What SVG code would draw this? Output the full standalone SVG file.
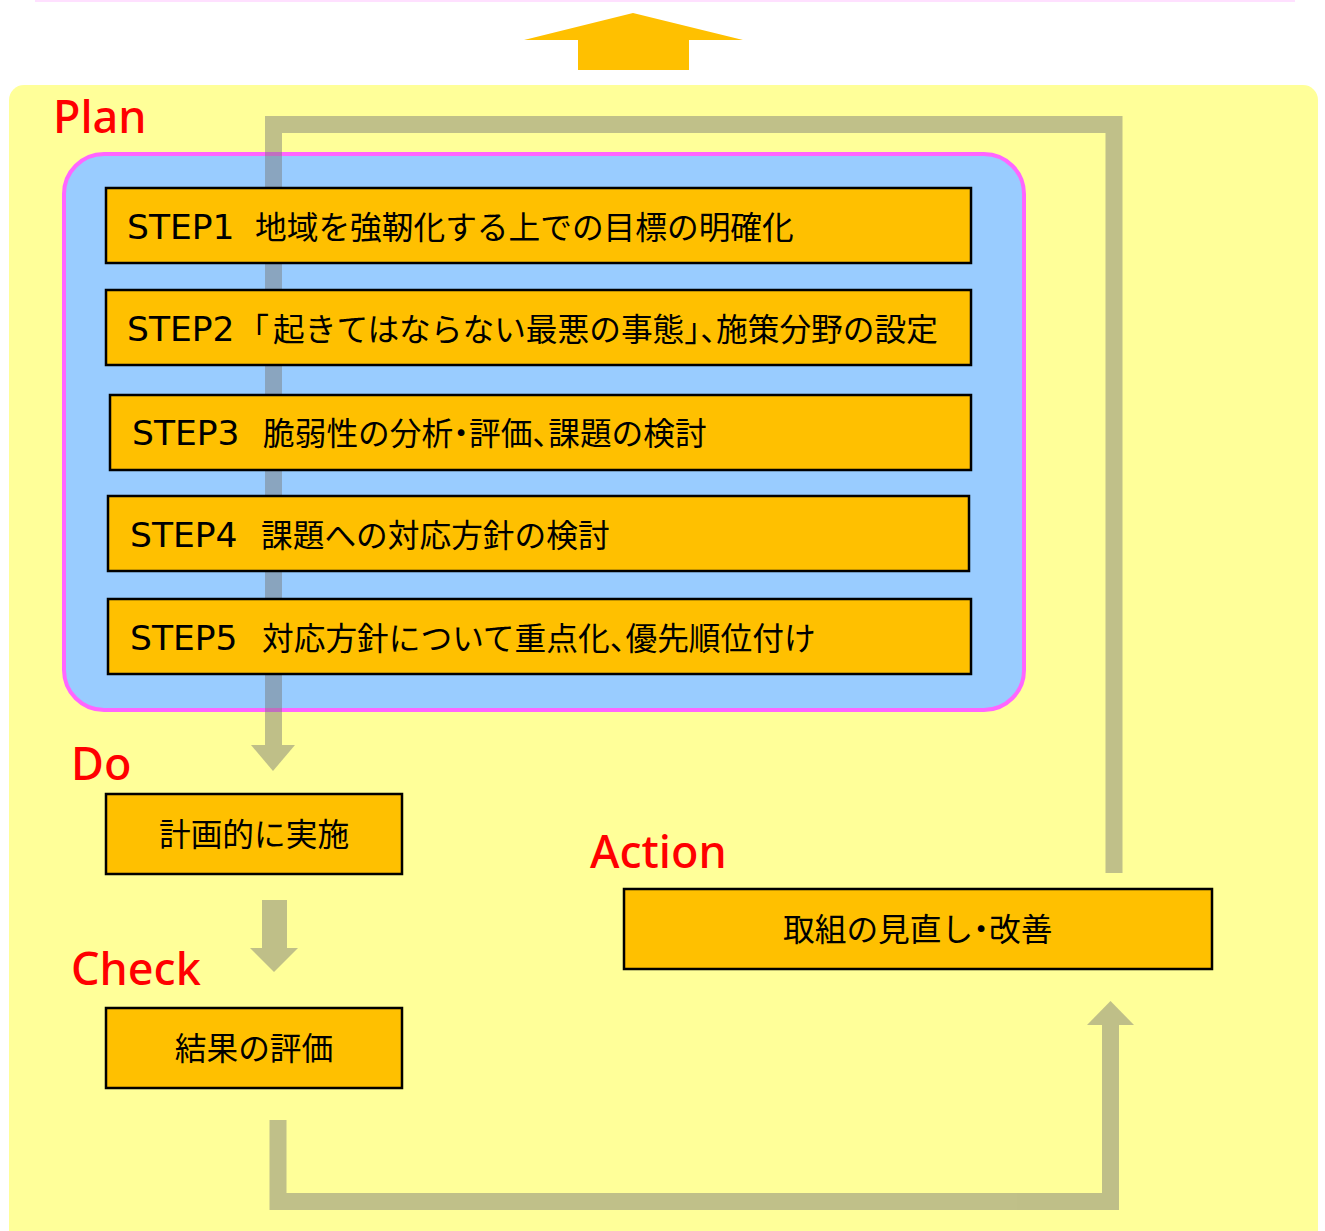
<svg xmlns="http://www.w3.org/2000/svg" width="1325" height="1231" viewBox="0 0 1325 1231">
<style>
.box{fill:#FFC000;stroke:#000;stroke-width:2.5}
.t{font-family:"Noto Sans CJK JP","Noto Sans",sans-serif;font-size:31.7px;fill:#000}
.l{font-family:"DejaVu Sans","Noto Sans",sans-serif;font-size:34.5px}
.h{font-feature-settings:"halt" 1}
.lbl{font-family:"Noto Sans","Noto Sans CJK JP",sans-serif;font-size:45px;fill:#FF0000;font-weight:500}
.conn path{fill:none;stroke:#797977;stroke-width:17;stroke-linejoin:miter}
.conn polygon,.conn rect{fill:#797977}
</style>
<rect width="1325" height="1231" fill="#fff"/>
<line x1="35" y1="1" x2="1295" y2="1" stroke="#FFE0FF" stroke-width="2"/>
<g id="up-arrow"><polygon points="633,13 743,40 689,40 689,70 578,70 578,40 524,40" fill="#FFC000"/></g>
<g id="background"><rect x="9" y="85" width="1309" height="1170" rx="15" fill="#FFFF99"/></g>
<g id="plan-label"><text class="lbl" x="53" y="133">Plan</text></g>
<g id="plan-frame"><rect x="64" y="154" width="960" height="556" rx="40" fill="#99CCFF" stroke="#FF66FF" stroke-width="4"/></g>
<g id="connectors" class="conn">
<g opacity="0.47"><path d="M1114,873 V124.5 H273.5 V748"/><polygon points="251,745 295,745 273,771"/></g>
<g opacity="0.47"><rect x="262" y="900" width="25" height="49"/><polygon points="250,948 298,948 274,972"/></g>
<g opacity="0.47"><path d="M278,1120 V1201.5 H1110.5 V1022"/><polygon points="1087,1025 1134,1025 1110.5,1001"/></g>
</g>
<g id="step1"><rect class="box" x="106" y="188" width="865" height="75"/><text class="t" y="239"><tspan class="l" x="127">STEP1</tspan><tspan x="255">地域を強靭化する上での目標の明確化</tspan></text></g>
<g id="step2"><rect class="box" x="106" y="290" width="865" height="75"/><text class="t" y="341"><tspan class="l" x="127">STEP2</tspan><tspan class="h" x="253">「</tspan><tspan x="273">起きてはならない最悪の事態</tspan><tspan class="h">」、</tspan><tspan>施策分野の設定</tspan></text></g>
<g id="step3"><rect class="box" x="110" y="395" width="861" height="75"/><text class="t" y="445"><tspan class="l" x="132">STEP3</tspan><tspan x="263">脆弱性の分析</tspan><tspan class="h">・</tspan><tspan>評価</tspan><tspan class="h">、</tspan><tspan>課題の検討</tspan></text></g>
<g id="step4"><rect class="box" x="108" y="496" width="861" height="75"/><text class="t" y="547"><tspan class="l" x="130">STEP4</tspan><tspan x="261">課題への対応方針の検討</tspan></text></g>
<g id="step5"><rect class="box" x="108" y="599" width="863" height="75"/><text class="t" y="650"><tspan class="l" x="130">STEP5</tspan><tspan x="262">対応方針について重点化</tspan><tspan class="h">、</tspan><tspan>優先順位付け</tspan></text></g>
<g id="do-label"><text class="lbl" x="71" y="780">Do</text></g>
<g id="do"><rect class="box" x="106" y="794" width="296" height="80"/><text class="t" x="254" y="846" text-anchor="middle">計画的に実施</text></g>
<g id="check-label"><text class="lbl" x="71" y="985">Check</text></g>
<g id="check"><rect class="box" x="106" y="1008" width="296" height="80"/><text class="t" x="254" y="1060" text-anchor="middle">結果の評価</text></g>
<g id="action-label"><text class="lbl" x="590" y="868">Action</text></g>
<g id="action"><rect class="box" x="624" y="889" width="588" height="80"/><text class="t" y="941"><tspan x="783">取組の見直し</tspan><tspan class="h">・</tspan><tspan>改善</tspan></text></g>
</svg>
